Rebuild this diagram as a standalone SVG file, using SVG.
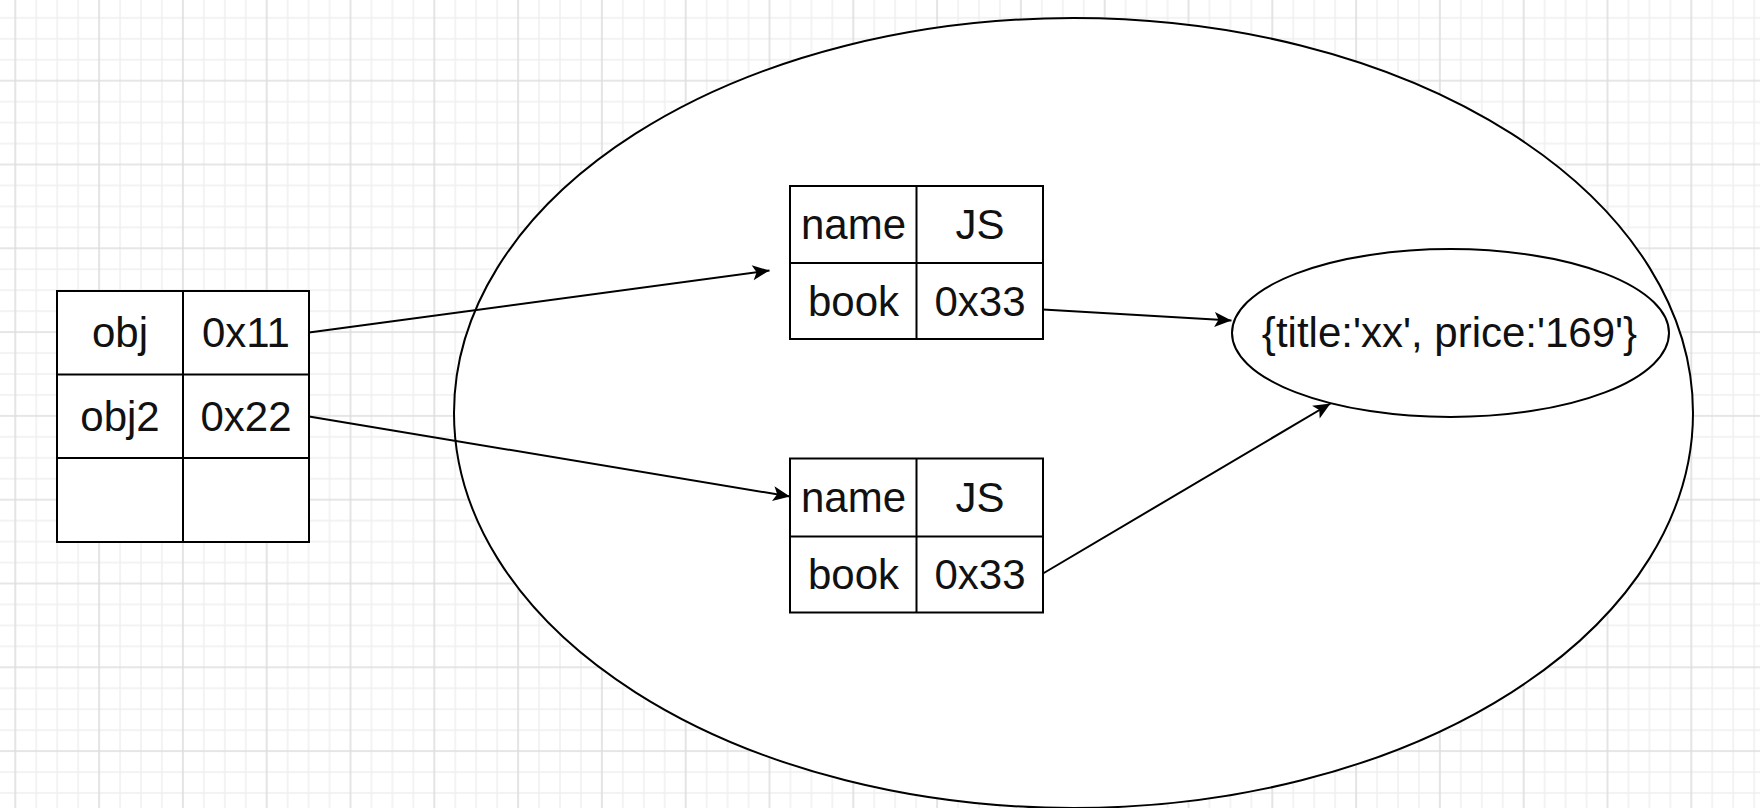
<svg xmlns="http://www.w3.org/2000/svg" width="1760" height="808" viewBox="0 0 1760 808">
<defs>
<style>
.cell{fill:#ffffff;stroke:#000;stroke-width:2}
.div{stroke:#000;stroke-width:2;fill:none}
.t{font-family:"Liberation Sans",Arial,sans-serif;font-size:42px;fill:#111;text-anchor:middle}
.conn{stroke:#000;stroke-width:2;fill:none;marker-end:url(#arr)}
.ell{fill:#ffffff;stroke:#000;stroke-width:2}
</style>
<pattern id="grid" patternUnits="userSpaceOnUse" x="14.3" y="-4.1" width="83.8" height="83.8">
<path d="M21.95,0V83.8M42.9,0V83.8M63.85,0V83.8M0,21.95H83.8M0,42.9H83.8M0,63.85H83.8" stroke="#efefef" stroke-width="1.5" fill="none"/>
<path d="M1,0V83.8M0,1H83.8" stroke="#dedede" stroke-width="1.6" fill="none"/>
</pattern>
<marker id="arr" markerUnits="userSpaceOnUse" viewBox="0 0 20 18" refX="18" refY="9" markerWidth="20" markerHeight="18" orient="auto">
<path d="M1,1.5 L18,9 L1,16.5 L5,9 Z" fill="#000"/>
</marker>
</defs>
<rect width="1760" height="808" fill="#ffffff"/>
<rect width="1760" height="808" fill="url(#grid)"/>

<g id="heap">
<ellipse class="ell" cx="1073.5" cy="413" rx="619.5" ry="395"/>
</g>

<g id="stack-table">
<rect class="cell" x="57" y="291" width="252" height="251"/>
<path class="div" d="M183,291V542M57,374.5H309M57,458H309"/>
<text class="t" x="120" y="347">obj</text>
<text class="t" x="246" y="347">0x11</text>
<text class="t" x="120" y="430.5">obj2</text>
<text class="t" x="246" y="430.5">0x22</text>
</g>

<g id="object1">
<rect class="cell" x="790" y="186" width="253" height="153"/>
<path class="div" d="M916.5,186V339M790,263H1043"/>
<text class="t" x="853.5" y="239">name</text>
<text class="t" x="980" y="239">JS</text>
<text class="t" x="853.5" y="316">book</text>
<text class="t" x="980" y="316">0x33</text>
</g>

<g id="object2">
<rect class="cell" x="790" y="458.5" width="253" height="154"/>
<path class="div" d="M916.5,458.5V612.5M790,536.5H1043"/>
<text class="t" x="853.5" y="512">name</text>
<text class="t" x="980" y="512">JS</text>
<text class="t" x="853.5" y="589">book</text>
<text class="t" x="980" y="589">0x33</text>
</g>

<g id="book-object">
<ellipse class="ell" cx="1450.5" cy="333" rx="218.5" ry="84"/>
<text class="t" x="1449.5" y="347">{title:'xx', price:'169'}</text>
</g>

<g id="connectors">
<path class="conn" d="M309,332.5L769.5,270.5"/>
<path class="conn" d="M309,416.5L790,496.5"/>
<path class="conn" d="M1043,309.5L1231.5,320.5"/>
<path class="conn" d="M1043,573.5L1330.5,403.5"/>
</g>
</svg>
